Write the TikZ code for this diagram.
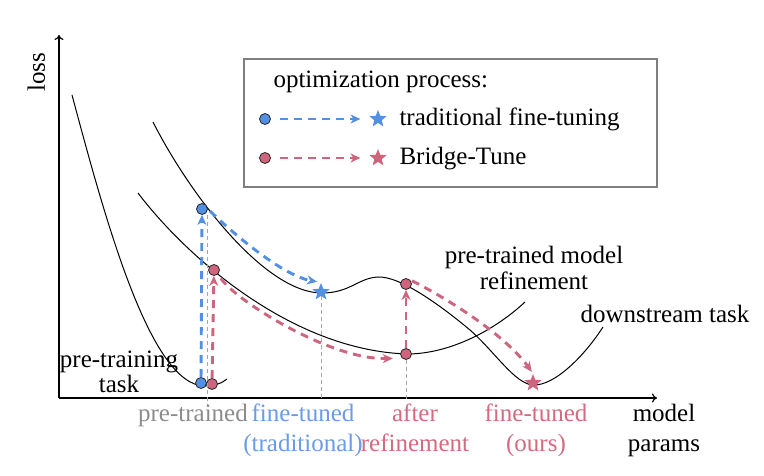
\documentclass[tikz,border=0pt]{standalone}
\usepackage{fontspec}
\setmainfont{Liberation Serif}
\usetikzlibrary{arrows.meta,shapes.geometric,calc}
\definecolor{myblue}{HTML}{5290E4}
\definecolor{myred}{HTML}{CF657D}
\definecolor{lblue}{HTML}{6A9BE8}
\definecolor{lred}{HTML}{D46A80}
\definecolor{mygray}{HTML}{8C8C8C}
\definecolor{boxgray}{HTML}{7F7F7F}
\begin{document}
\begin{tikzpicture}[x=1pt,y=-1pt,
  font=\fontsize{25}{30}\selectfont,
  curve/.style={line width=1pt},
  dot/.style={circle, draw=black!85, line width=0.8pt, inner sep=0pt, minimum size=11pt},
  bdot/.style={dot, fill=myblue},
  rdot/.style={dot, fill=myred},
  starnode/.style={star, star points=5, star point ratio=2.3, inner sep=0pt, minimum size=18pt},
  bstar/.style={starnode, fill=myblue},
  rstar/.style={starnode, fill=myred},
  tip/.style={-{Stealth[length=10pt,width=9pt,inset=3pt]}},
  barrow/.style={draw=myblue, line width=2.9pt, dash pattern=on 8pt off 6pt, tip},
  rarrow/.style={draw=myred, line width=2.9pt, dash pattern=on 8pt off 6pt, tip},
  guide/.style={draw=gray!70, line width=0.9pt, dash pattern=on 4pt off 3pt},
  axis/.style={line width=1.2pt, -{To[length=5pt,width=9pt]}},
  lbl/.style={anchor=base, align=center}]

\useasboundingbox (0,0) rectangle (764,476);

% axes
\coordinate (O) at (59,398);
\coordinate (xe) at (657,398);
\coordinate (ye) at (59,35);
\draw[axis] (O) -- (xe);
\draw[axis] (O) -- (ye);

% loss curves
% pre-training task
\draw[curve] (72,95) .. controls (105,218) and (150,386) .. (205,386)
  .. controls (215,386) and (222,383) .. (227,379);
% pre-trained model refinement
\draw[curve] (138,193) .. controls (185,255) and (290,350) .. (407,354)
  .. controls (450,354) and (495,330) .. (525,302);
% downstream task
\draw[curve] (153,122) .. controls (190,195) and (265,293) .. (322,293)
  .. controls (350,293) and (358,278) .. (378,277)
  .. controls (400,276) and (440,305) .. (470,330)
  .. controls (495,352) and (515,384) .. (533,385)
  .. controls (555,386) and (585,355) .. (603,327);

% points
\node[bdot] (bt) at (202,209) {};
\node[bdot] (bb) at (201,383) {};
\node[rdot] (rt) at (214,270) {};
\node[rdot] (rb) at (212,384) {};
\node[rdot] (ra) at (406,284) {};
\node[rdot] (rm) at (406,354) {};
\node[bstar] (sb) at (321,292) {};
\node[rstar] (sr) at (533,383) {};

% guides
\coordinate (g1) at (207,405);
\coordinate (g2) at (321,400);
\coordinate (g3) at (406,400);
\draw[guide] (g1 |- bt.south) -- (g1);
\draw[guide] (sb.south) -- (g2);
\draw[guide] (rm.south) -- (g3);

% optimization arrows
\draw[barrow] (bb) -- (bt);
\draw[rarrow] (rb) -- (rt);
\draw[rarrow] (rm) -- (ra);
\draw[barrow, shorten <=3pt, shorten >=4pt] (bt.east) .. controls (240,240) and (285,276) .. (sb.north);
\draw[rarrow, shorten <=5pt, shorten >=9pt] (rt.south east) .. controls (235,300) and (330,360) .. (rm.south west);
\draw[rarrow, shorten <=2pt, shorten >=2pt] (ra.north east) .. controls (450,300) and (505,335) .. (sr.north);

% legend
\draw[draw=boxgray, line width=2.8pt] (244,59) rectangle (657,187);
\node[anchor=base west] (lt) at (270,88) {optimization process:};
\node[bdot] (lb1) at (265,119) {};
\node[bstar] (ls1) at (378,119) {};
\node[rdot] (lb2) at (265,158) {};
\node[rstar] (ls2) at (378,158) {};
\draw[barrow, shorten <=9pt, shorten >=12pt] (lb1) -- (ls1);
\draw[rarrow, shorten <=9pt, shorten >=12pt] (lb2) -- (ls2);
\node[anchor=base west] (l1) at (396,126) {traditional fine-tuning};
\node[anchor=base west] (l2) at (396,165) {Bridge-Tune};

% labels
\node[rotate=90, anchor=base] (ylab) at (45,72) {loss};
\node[lbl] (xlab) at (664,451) {model\\params};
\node[lbl, text=mygray] (x1) at (193,421) {pre-trained};
\node[lbl, text=lblue] (x2) at (303,451) {fine-tuned\\(traditional)};
\node[lbl, text=lred] (x3) at (415,451) {after\\refinement};
\node[lbl, text=lred] (x4) at (536,451) {fine-tuned\\(ours)};
\node[lbl] (c1) at (119,392) {pre-training\\[-5pt]task};
\node[lbl] (c2) at (534,290) {pre-trained model\\[-3pt]refinement};
\node[lbl] (c3) at (665,322) {downstream task};
\end{tikzpicture}
\end{document}
